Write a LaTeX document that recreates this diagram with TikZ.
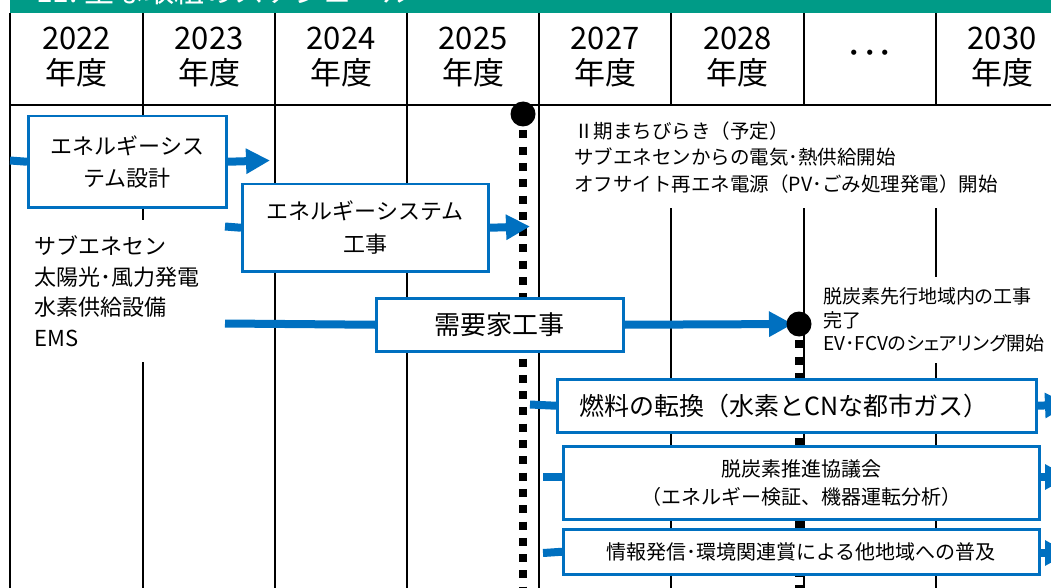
\documentclass[tikz,border=0pt]{standalone}
\usepackage{fontspec}
\setmainfont{Noto Sans CJK JP}
\newfontfamily\pfont[RawFeature=+palt]{Noto Sans CJK JP}
\usetikzlibrary{arrows.meta}
\definecolor{teal1}{RGB}{0,155,135}
\definecolor{blu}{RGB}{0,112,192}
\begin{document}
\begin{tikzpicture}[x=1pt,y=-1pt,
  grid/.style={line width=1.6pt,black},
  hdr/.style={align=center,font=\fontsize{31}{35}\selectfont,inner sep=0pt},
  box/.style={draw=blu,line width=2.5pt,fill=white,align=center,inner sep=0pt},
  conn/.style={blu,line width=8pt},
  arr/.style={conn,-{Triangle[length=24pt,width=24pt]}},
  dots/.style={line width=8pt,dash pattern=on 8pt off 8.3pt},
  note/.style={fill=white,align=left,inner ysep=0pt},
  ms/.style={fill=black,circle,inner sep=0pt,minimum size=25pt}]
\useasboundingbox (0,0) rectangle (1051,588);
% title band
\fill[teal1] (10,-10) rectangle (1070,13.5);
\node[anchor=base west,text=white,inner sep=0pt,font=\fontsize{30}{30}\selectfont] (title) at (36,3) {11.\ 主な取組のスケジュール};
% grid
\draw[grid] (10,13.5) -- (10,600);
\foreach \x in {143,275,407,539,671,804,936}
  \draw[grid] (\x,13.5) -- (\x,600);
\draw[line width=2pt] (10,105.5) -- (1070,105.5);
% header
\foreach \x/\t/\n in {76.5/2022/h1,209/2023/h2,341/2024/h3,473/2025/h4,605/2027/h5,737.5/2028/h6,1002/2030/h8}
  \node[hdr] (\n) at (\x,57) {\t\\年度};
\node[hdr] (h7) at (870,57) {･･･};
% white notes
\node[note,anchor=north west,inner xsep=9pt,minimum width=200pt,minimum height=142pt,text width=182pt,font=\fontsize{22}{30.7}\selectfont] (lbl) at (25,220)
  {サブエネセン\\太陽光･風力発電\\水素供給設備\\EMS};
\node[note,anchor=north west,inner xsep=29pt,minimum height=102pt,text width=520pt,font=\fontsize{19.5}{26.5}\selectfont] (ph2) at (545,106)
  {Ⅱ期まちびらき（予定）\\サブエネセンからの電気･熱供給開始\\オフサイト再エネ電源（PV･ごみ処理発電）開始};
\node[note,anchor=west,inner xsep=8pt,minimum height=86pt,text width=260pt,font=\pfont\fontsize{19}{23.5}\selectfont] (done) at (815,320)
  {脱炭素先行地域内の工事\\完了\\EV･FCVのシェアリング開始};
% milestones
\coordinate (m1) at (523,114);
\coordinate (m1b) at (523,600);
\coordinate (m2) at (799,324);
\coordinate (m2b) at (799,600);
\draw[dots] (m1) -- (m1b);
\draw[dots] (m2) -- (m2b);
% boxes
\node[box,anchor=north west,minimum width=198pt,minimum height=91pt,font=\fontsize{22}{32}\selectfont] (b1) at (27,115) {エネルギーシス\\テム設計};
\node[box,anchor=north west,minimum width=246pt,minimum height=87pt,font=\fontsize{22}{33}\selectfont] (b2) at (241,183) {エネルギーシステム\\工事};
\node[box,anchor=north west,minimum width=247pt,minimum height=53pt,font=\fontsize{26}{30}\selectfont] (b3) at (375,297) {需要家工事};
\node[box,anchor=north west,align=left,inner xsep=22pt,text width=435pt,minimum height=53pt,font=\fontsize{25}{30}\selectfont] (b4) at (556,378) {燃料の転換（水素とCNな都市ガス）};
\node[box,anchor=north west,minimum width=476pt,minimum height=73pt,font=\fontsize{20}{28}\selectfont] (b5) at (562,445) {脱炭素推進協議会\\（エネルギー検証、機器運転分析）};
\node[box,anchor=north west,minimum width=476pt,minimum height=45pt,font=\fontsize{20}{24}\selectfont] (b6) at (562,528) {情報発信･環境関連賞による他地域への普及};
% connector end points
\coordinate (s1) at (10,160.5);
\coordinate (t1) at (270,160.5);
\coordinate (s2) at (225,226.5);
\coordinate (t2) at (530,226.5);
\coordinate (s3) at (225,323.5);
\coordinate (s4) at (530,404.5);
\coordinate (t4) at (1069,404.5);
\coordinate (s5) at (543,477);
\coordinate (t5) at (1069,477);
\coordinate (s6) at (543,553);
\coordinate (t6) at (1069,553);
% connectors
\draw[conn] (s1) -- (b1.west);
\draw[arr] (b1.east) -- (t1);
\draw[conn] (s2) -- (b2.west);
\draw[arr] (b2.east) -- (t2);
\draw[conn] (s3) -- (b3.west);
\draw[arr,shorten >=6pt] (b3.east) -- (m2);
\draw[conn] (s4) -- (b4.west);
\draw[arr] (b4.east) -- (t4);
\draw[conn] (s5) -- (s5 -| b5.west);
\draw[arr] (b5.east |- t5) -- (t5);
\draw[conn] (s6) -- (b6.west);
\draw[arr] (b6.east |- t6) -- (t6);
% milestone dots
\node[ms] (c1) at (m1) {};
\node[ms] (c2) at (m2) {};
\end{tikzpicture}
\end{document}
